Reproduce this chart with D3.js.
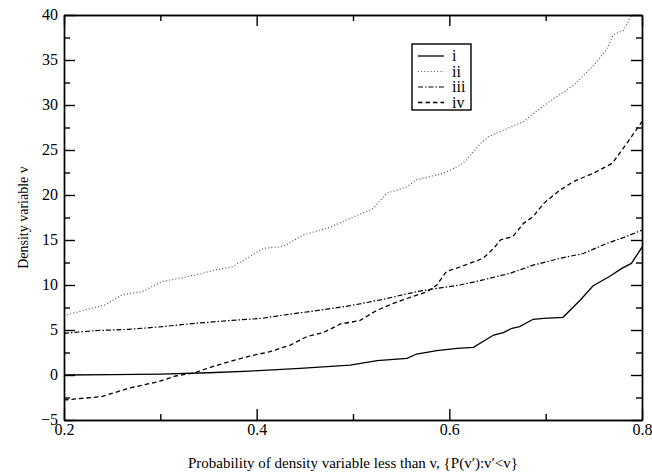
<!DOCTYPE html>
<html>
<head>
<meta charset="utf-8">
<script src="https://cdn.jsdelivr.net/npm/d3@7"></script>
<style>
  body { margin: 0; background: #fff; }
  text { font-family: "Liberation Serif", "DejaVu Serif", serif; fill: #000; }
</style>
</head>
<body>
<script>
var width = 652, height = 476;
var margin = { top: 15, right: 10, bottom: 56, left: 64 };

// series data (probability, density variable)
var pI = [0.2, 0.25, 0.3, 0.35, 0.393, 0.445, 0.497, 0.525, 0.556, 0.566, 0.587, 0.608, 0.625, 0.646, 0.656, 0.665, 0.673, 0.687, 0.698, 0.718, 0.736, 0.749, 0.767, 0.779, 0.789, 0.8];
var vI = [0, 0.05, 0.1, 0.25, 0.44, 0.74, 1.1, 1.6, 1.85, 2.33, 2.7, 2.96, 3.07, 4.44, 4.7, 5.19, 5.37, 6.19, 6.3, 6.41, 8.33, 9.89, 11.0, 11.85, 12.4, 14.2];

var pII = [0.2, 0.243, 0.26, 0.281, 0.302, 0.316, 0.336, 0.357, 0.374, 0.392, 0.407, 0.428, 0.448, 0.476, 0.497, 0.521, 0.535, 0.556, 0.566, 0.594, 0.611, 0.618, 0.632, 0.641, 0.677, 0.694, 0.711, 0.729, 0.749, 0.763, 0.770, 0.781, 0.789];
var vII = [6.6, 7.8, 8.9, 9.26, 10.4, 10.67, 11.1, 11.67, 12.0, 13.1, 14.07, 14.3, 15.55, 16.4, 17.4, 18.5, 20.2, 20.9, 21.7, 22.4, 23.3, 23.9, 25.7, 26.5, 28.15, 29.6, 30.9, 32.2, 34.3, 36.1, 37.8, 38.3, 40];

var pIII = [0.2, 0.232, 0.267, 0.302, 0.336, 0.371, 0.406, 0.428, 0.462, 0.497, 0.531, 0.566, 0.587, 0.611, 0.635, 0.663, 0.687, 0.715, 0.739, 0.763, 0.784, 0.8];
var vIII = [4.63, 4.93, 5.07, 5.37, 5.74, 6.04, 6.3, 6.67, 7.15, 7.7, 8.4, 9.26, 9.63, 10.0, 10.56, 11.3, 12.2, 12.96, 13.5, 14.6, 15.4, 16.1];

var pIV = [0.2, 0.239, 0.267, 0.298, 0.316, 0.336, 0.354, 0.378, 0.393, 0.414, 0.435, 0.452, 0.469, 0.487, 0.507, 0.525, 0.542, 0.556, 0.577, 0.587, 0.597, 0.611, 0.635, 0.646, 0.653, 0.666, 0.677, 0.687, 0.698, 0.715, 0.729, 0.749, 0.769, 0.784, 0.8];
var vIV = [-2.78, -2.4, -1.48, -0.74, -0.11, 0.26, 0.93, 1.67, 2.1, 2.6, 3.33, 4.26, 4.7, 5.67, 6.04, 7.2, 7.96, 8.5, 9.26, 10.0, 11.5, 12.0, 12.96, 14.07, 15.0, 15.4, 16.85, 17.6, 19.07, 20.56, 21.5, 22.4, 23.5, 25.7, 28.15];

var seriesNames = ["i", "ii", "iii", "iv"];
var xMajor = [0.2, 0.4, 0.6, 0.8];
var xMinor = [0.3, 0.5, 0.7];
var yMajor = [-5, 0, 5, 10, 15, 20, 25, 30, 35, 40];
var yMinor = [-2.5, 2.5, 7.5, 12.5, 17.5, 22.5, 27.5, 32.5, 37.5];

var series = [
  { name: "i", p: pI, v: vI, dash: null, color: "#000", w: 1.3 },
  { name: "ii", p: pII, v: vII, dash: "1,2.2", color: "#555", w: 1.2 },
  { name: "iii", p: pIII, v: vIII, dash: "5,2,1.5,2", color: "#000", w: 1.2 },
  { name: "iv", p: pIV, v: vIV, dash: "4.5,3", color: "#000", w: 1.3 }
];

var x = d3.scaleLinear().domain([0.2, 0.8]).range([margin.left, width - margin.right]);
var y = d3.scaleLinear().domain([-5, 40]).range([height - margin.bottom, margin.top]);

var svg = d3.select("body").append("svg")
  .attr("width", width)
  .attr("height", height);

svg.append("defs").append("clipPath").attr("id", "clip")
  .append("rect")
  .attr("x", x(0.2)).attr("y", y(40))
  .attr("width", x(0.8) - x(0.2)).attr("height", y(-5) - y(40));

//curves
var line = d3.line()
  .x(d => x(d[0]))
  .y(d => y(d[1]));

svg.append("g")
  .attr("clip-path", "url(#clip)")
  .selectAll("path")
  .data(series)
  .join("path")
  .attr("d", s => line(s.p.map((p, i) => [p, s.v[i]])))
  .attr("fill", "none")
  .attr("stroke", s => s.color)
  .attr("stroke-width", s => s.w)
  .attr("stroke-dasharray", s => s.dash);

//axes, ticks inward on all four sides
var majorLen = 11, minorLen = 6;

svg.append("g")
  .attr("transform", `translate(0,${y(-5)})`)
  .call(d3.axisBottom(x).tickValues(xMajor).tickSizeInner(-majorLen).tickSizeOuter(0).tickPadding(6).tickFormat(d3.format(".1f")))
  .call(g => g.selectAll("text").attr("font-size", 16).attr("dy", "0.55em"));
svg.append("g")
  .attr("transform", `translate(0,${y(-5)})`)
  .call(d3.axisBottom(x).tickValues(xMinor).tickSizeInner(-minorLen).tickSizeOuter(0).tickFormat(""));

svg.append("g")
  .attr("transform", `translate(0,${y(40)})`)
  .call(d3.axisTop(x).tickValues(xMajor).tickSizeInner(-majorLen).tickSizeOuter(0).tickFormat(""));
svg.append("g")
  .attr("transform", `translate(0,${y(40)})`)
  .call(d3.axisTop(x).tickValues(xMinor).tickSizeInner(-minorLen).tickSizeOuter(0).tickFormat(""));

svg.append("g")
  .attr("transform", `translate(${x(0.2)},0)`)
  .call(d3.axisLeft(y).tickValues(yMajor).tickSizeInner(-majorLen).tickSizeOuter(0).tickPadding(6))
  .call(g => g.selectAll("text").attr("font-size", 16).attr("dy", "0.3em"));
svg.append("g")
  .attr("transform", `translate(${x(0.2)},0)`)
  .call(d3.axisLeft(y).tickValues(yMinor).tickSizeInner(-minorLen).tickSizeOuter(0).tickFormat(""));

svg.append("g")
  .attr("transform", `translate(${x(0.8)},0)`)
  .call(d3.axisRight(y).tickValues(yMajor).tickSizeInner(-majorLen).tickSizeOuter(0).tickFormat(""));
svg.append("g")
  .attr("transform", `translate(${x(0.8)},0)`)
  .call(d3.axisRight(y).tickValues(yMinor).tickSizeInner(-minorLen).tickSizeOuter(0).tickFormat(""));

svg.selectAll(".domain").attr("stroke", "#000").attr("stroke-width", 1.4);
svg.selectAll(".tick line").attr("stroke", "#000").attr("stroke-width", 1.4);

//axis titles, centred on the plot area
svg.append("text")
  .attr("x", (x(0.2) + x(0.8)) / 2)
  .attr("y", 468)
  .attr("text-anchor", "middle")
  .attr("font-size", 15)
  .text("Probability of density variable less than v, {P(v\u2032):v\u2032<v}");

svg.append("text")
  .attr("transform", `translate(23,${(y(-5) + y(40)) / 2}) rotate(-90)`)
  .attr("text-anchor", "middle")
  .attr("dy", "0.35em")
  .attr("font-size", 14)
  .text("Density variable v");

//legend
var lgX = 412, lgY = 44;
var lg = svg.append("g");
lg.append("rect")
  .attr("x", lgX).attr("y", lgY)
  .attr("width", 59).attr("height", 66)
  .attr("fill", "#fff")
  .attr("stroke", "#000")
  .attr("stroke-width", 1.4);

var rows = lg.selectAll("g.row")
  .data(series)
  .join("g")
  .attr("class", "row")
  .attr("transform", (d, i) => `translate(${lgX},${lgY + 12 + i * 15.5})`);
rows.append("line")
  .attr("x1", 6).attr("x2", 32)
  .attr("stroke", d => d.color)
  .attr("stroke-width", d => d.w)
  .attr("stroke-dasharray", d => d.dash);
rows.append("text")
  .attr("x", 40)
  .attr("dy", "0.32em")
  .attr("font-size", 16)
  .text((d, i) => seriesNames[i]);
</script>
</body>
</html>
